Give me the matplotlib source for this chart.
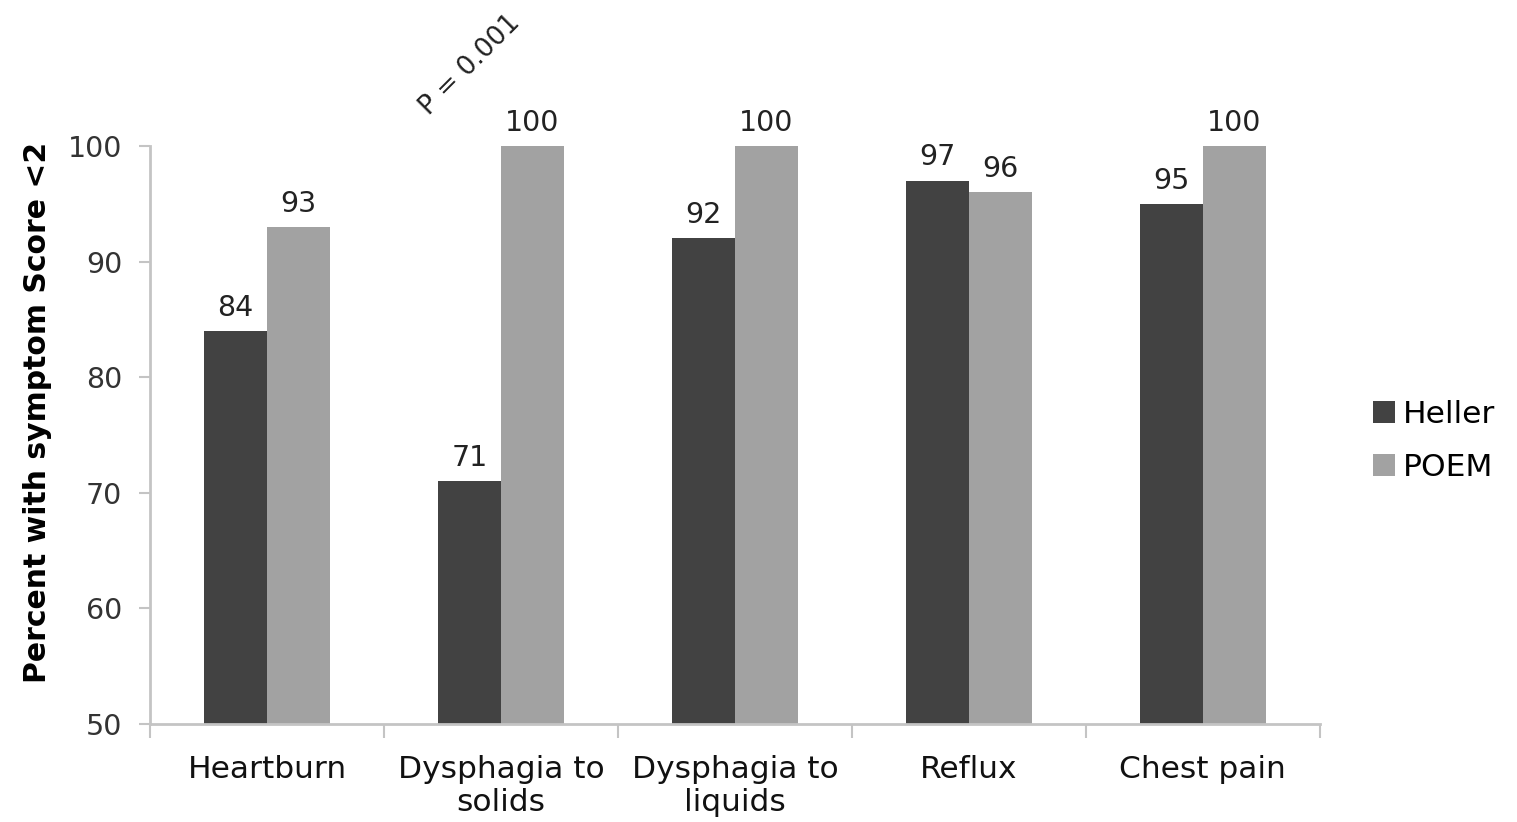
import matplotlib
matplotlib.use("Agg")
import matplotlib.pyplot as plt
import numpy as np

categories = ["Heartburn", "Dysphagia to\nsolids", "Dysphagia to\nliquids", "Reflux", "Chest pain"]
heller = [84, 71, 92, 97, 95]
poem = [93, 100, 100, 96, 100]
yticks = [50, 60, 70, 80, 90, 100]

plt.rcParams['font.family'] = ['DejaVu Sans']

fig = plt.figure(figsize=(15.17, 8.22), dpi=100)
ax = fig.add_axes([0.0989, 0.1192, 0.7711, 0.7032])

x = np.arange(len(categories))
w = 0.27
c_h = '#424242'
c_p = '#a2a2a2'
b1 = ax.bar(x - w/2, heller, w, color=c_h, label='Heller')
b2 = ax.bar(x + w/2, poem, w, color=c_p, label='POEM')

for bars, vals in ((b1, heller), (b2, poem)):
    for r, v in zip(bars, vals):
        ax.annotate(str(v), (r.get_x() + r.get_width()/2, v), xytext=(0, 11),
                    textcoords='offset points', ha='center', va='baseline',
                    fontsize=20.5, color='#222222')

ax.set_xlim(-0.5, len(categories) - 0.5)
ax.set_ylim(50, 100)
ax.set_yticks(yticks)
ax.set_yticklabels([str(t) for t in yticks], fontsize=20.5, color='#333333')
ax.set_xticks(x)
ax.set_xticklabels(categories, fontsize=22.5, color='#111111', linespacing=1.2)
ax.tick_params(axis='x', length=0, pad=22)
ax.set_xticks(np.arange(-0.5, len(categories)), minor=True)
ax.tick_params(axis='x', which='minor', length=10, color='#c4c4c4', width=1.5)
ax.tick_params(axis='y', length=8, color='#c4c4c4', width=1.5, pad=12)

for s in ('top', 'right'):
    ax.spines[s].set_visible(False)
for s in ('left', 'bottom'):
    ax.spines[s].set_color('#c4c4c4')
    ax.spines[s].set_linewidth(2)

ax.set_ylabel("Percent with symptom Score <2", fontsize=21.5, fontweight='bold')
ax.yaxis.set_label_coords(-0.084, 0.54)

ax.text(0.868, 107.0, "P = 0.001", rotation=45, ha='center', va='center',
        fontsize=19, color='#222222', clip_on=False)

leg = ax.legend(loc='center left', bbox_to_anchor=(1.035, 0.49), frameon=False,
                fontsize=22.5, handlelength=0.7, handleheight=0.7, handletextpad=0.25,
                labelspacing=0.75, borderaxespad=0)

fig.savefig("out.png", dpi=100)
